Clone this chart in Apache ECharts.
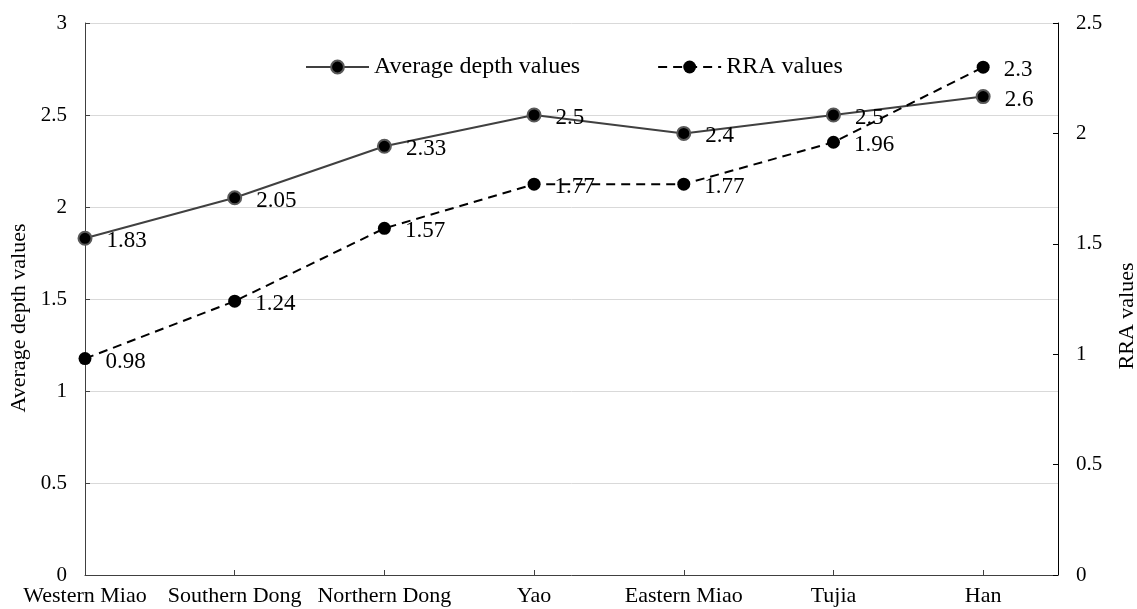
<!DOCTYPE html>
<html>
<head>
<meta charset="utf-8">
<script src="https://cdn.jsdelivr.net/npm/echarts@6/dist/echarts.min.js"></script>
<style>
  html, body { margin: 0; padding: 0; background: #fff; overflow: hidden; }
  #chart { width: 1137px; height: 609px; }
</style>
</head>
<body>
<div id="chart"></div>
<script>
// Groups shown along the horizontal axis
const categories = ['Western Miao', 'Southern Dong', 'Northern Dong', 'Yao', 'Eastern Miao', 'Tujia', 'Han'];
// Average depth per group (left axis)
const depthValues = [1.83, 2.05, 2.33, 2.5, 2.4, 2.5, 2.6];
// RRA per group (right axis)
const rraValues = [0.98, 1.24, 1.57, 1.77, 1.77, 1.96, 2.3];

const FONT = '"Liberation Serif", "Times New Roman", serif';

const chart = echarts.init(document.getElementById('chart'), null, { renderer: 'canvas' });

const labelStyle = {
  show: true,
  position: 'right',
  distance: 14,
  offset: [0, 3],
  fontFamily: FONT,
  fontSize: 23,
  color: '#000'
};

chart.setOption({
  animation: false,
  backgroundColor: '#fff',
  textStyle: { fontFamily: FONT },
  grid: { left: 85, right: 79, top: 23, bottom: 34, containLabel: false, outerBoundsMode: 'none' },
  legend: {
    left: 305,
    top: 55,
    padding: 0,
    itemWidth: 63,
    itemHeight: 16,
    itemGap: 77,
    textStyle: { fontFamily: FONT, fontSize: 24, color: '#000' },
    data: ['Average depth values', 'RRA values']
  },
  xAxis: {
    type: 'value',
    min: 0,
    max: 6.5,
    interval: 1,
    splitLine: { show: false },
    axisLine: { lineStyle: { color: '#404040', width: 1 } },
    axisTick: { inside: true, length: 5, lineStyle: { color: '#404040' } },
    axisLabel: {
      margin: 10,
      fontFamily: FONT,
      fontSize: 22,
      color: '#000',
      showMaxLabel: false,
      formatter: v => (Number.isInteger(v) && v < categories.length) ? categories[v] : ''
    }
  },
  yAxis: [
    {
      type: 'value',
      min: 0,
      max: 3,
      interval: 0.5,
      name: 'Average depth values',
      nameLocation: 'middle',
      nameRotate: 90,
      nameGap: 54,
      nameTextStyle: { fontFamily: FONT, fontSize: 22, color: '#000', padding: [0, 38, 0, 0] },
      axisLine: { show: true, lineStyle: { color: '#404040', width: 1 } },
      axisTick: { show: true, inside: true, length: 5, lineStyle: { color: '#404040' } },
      axisLabel: { margin: 18, fontFamily: FONT, fontSize: 21, color: '#000' },
      splitLine: { show: true, lineStyle: { color: '#d9d9d9', width: 1 } }
    },
    {
      type: 'value',
      min: 0,
      max: 2.5,
      interval: 0.5,
      position: 'right',
      name: 'RRA values',
      nameLocation: 'middle',
      nameRotate: 90,
      nameGap: 58,
      nameTextStyle: { fontFamily: FONT, fontSize: 22, color: '#000', padding: [0, 34, 0, 0] },
      axisLine: { show: true, lineStyle: { color: '#000', width: 1 } },
      axisTick: { show: true, inside: true, length: 5, lineStyle: { color: '#000' } },
      axisLabel: { margin: 18, fontFamily: FONT, fontSize: 21, color: '#000' },
      splitLine: { show: false }
    }
  ],
  series: [
    {
      name: 'Average depth values',
      type: 'line',
      yAxisIndex: 0,
      data: categories.map((c, i) => [i, depthValues[i]]),
      symbol: 'circle',
      symbolSize: 13,
      lineStyle: { color: '#404040', width: 2 },
      itemStyle: { color: '#000', borderColor: '#595959', borderWidth: 2 },
      label: labelStyle,
      z: 2
    },
    {
      name: 'RRA values',
      type: 'line',
      yAxisIndex: 1,
      data: categories.map((c, i) => [i, rraValues[i]]),
      symbol: 'circle',
      symbolSize: 13,
      lineStyle: { color: '#000', width: 2, type: [9, 6] },
      itemStyle: { color: '#000', borderColor: '#000', borderWidth: 0 },
      label: labelStyle,
      z: 3
    }
  ]
});
</script>
</body>
</html>
